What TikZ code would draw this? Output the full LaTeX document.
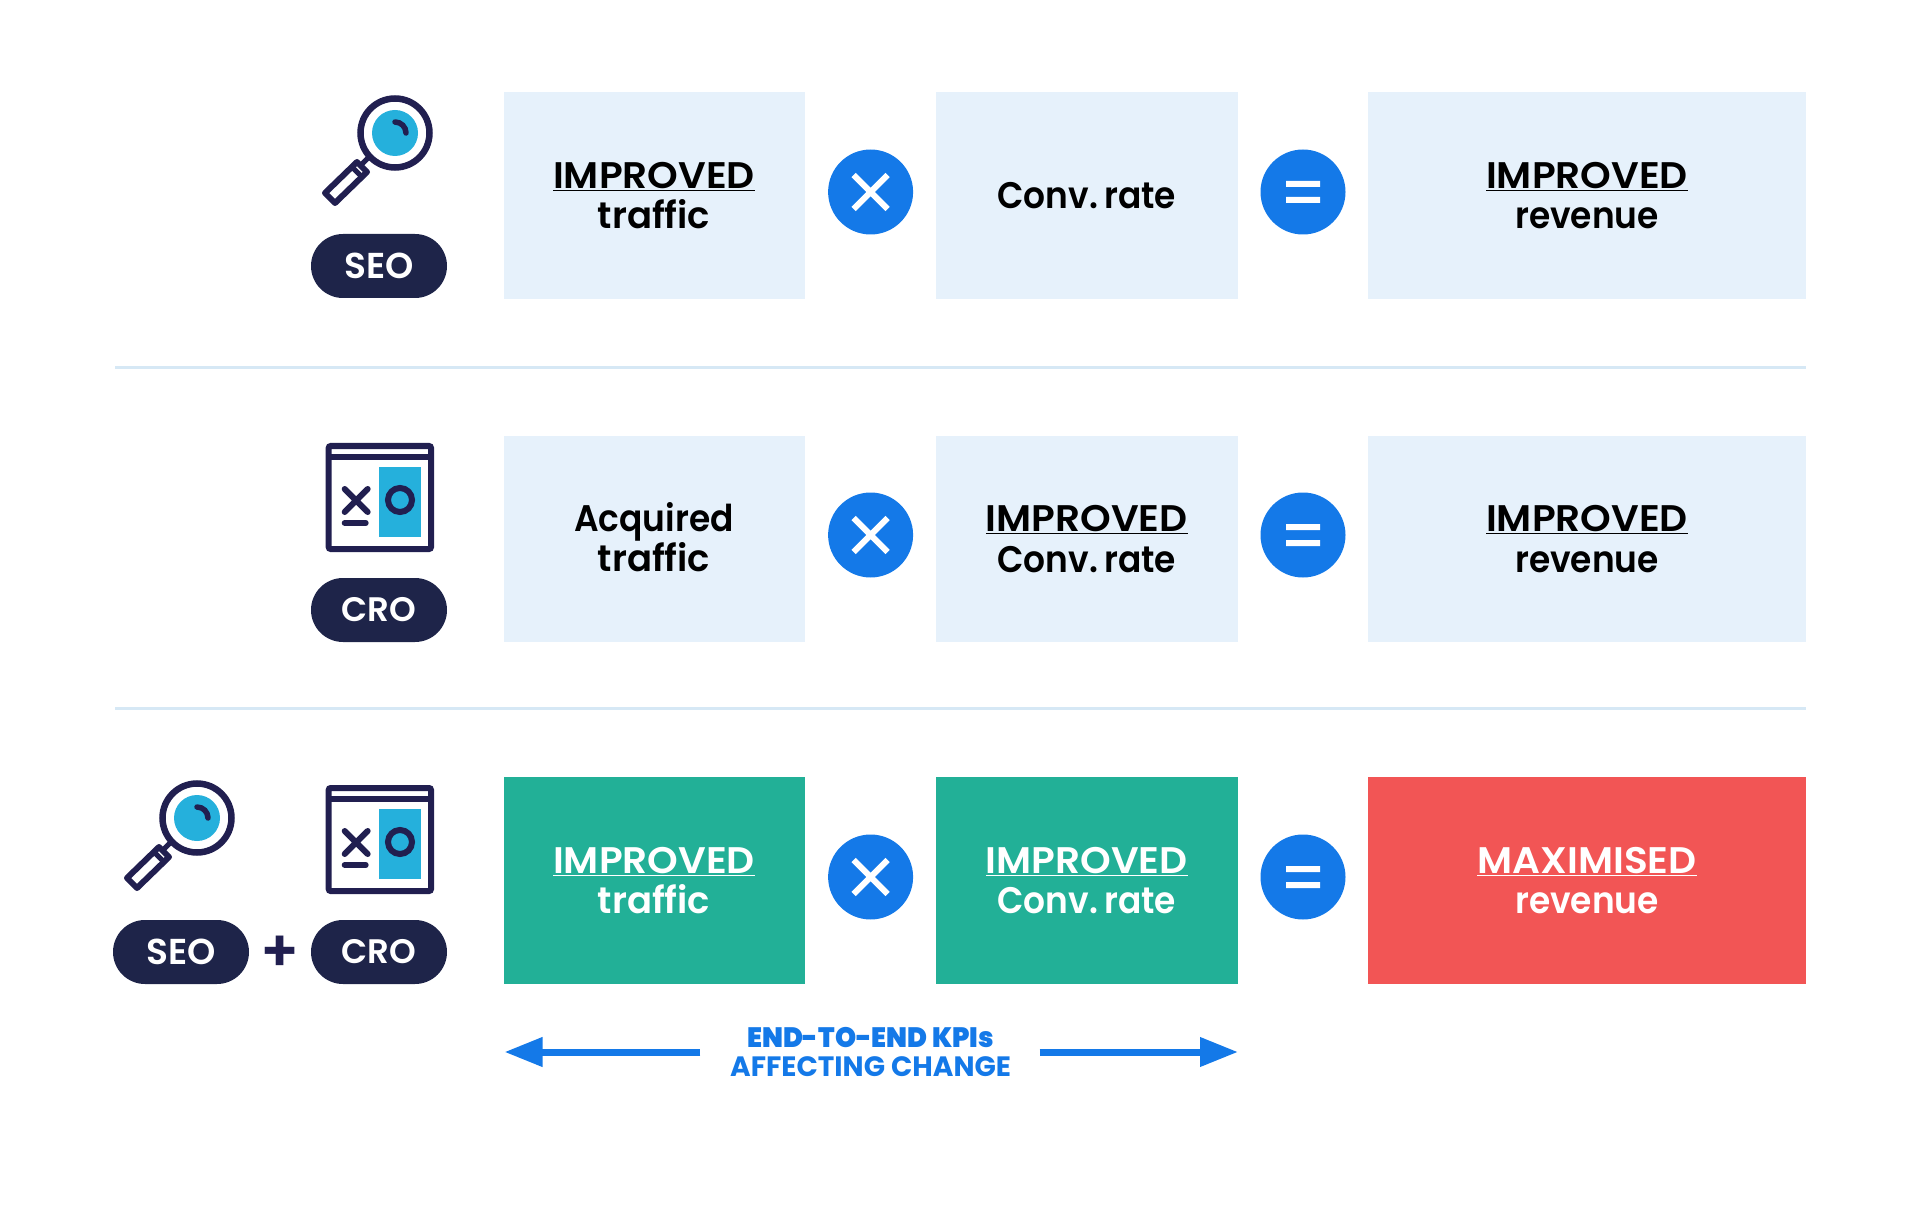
\documentclass[tikz,border=0pt]{standalone}
\usepackage{fontspec}
\setmainfont{Poppins}[BoldFont=Poppins Bold]
\newfontfamily\lowface{Poppins SemiBold}[FakeStretch=0.93,WordSpace=0.4]
\newfontfamily\wideface{Poppins SemiBold}[FakeStretch=1.0]
\newfontfamily\capface{Poppins SemiBold}[FakeStretch=1.055]
\newfontfamily\pillface{Poppins SemiBold}
\newfontfamily\kpiface{Poppins Bold}[FakeStretch=0.96]
\usetikzlibrary{arrows.meta}
\definecolor{navy}{HTML}{1E2449}
\definecolor{iconink}{HTML}{211F50}
\definecolor{cyanfill}{HTML}{25B0DC}
\definecolor{paleblue}{HTML}{E6F1FB}
\definecolor{rulecol}{HTML}{D6E8F5}
\definecolor{teal}{HTML}{22B097}
\definecolor{coral}{HTML}{F25555}
\definecolor{azure}{HTML}{1479E8}
\newcommand{\ul}[1]{\underline{{\capface #1}}}
\tikzset{
  kpibox/.style={rectangle,inner sep=0pt,minimum height=206.5pt,align=center,font=\fontsize{37}{40.6}\selectfont\lowface},
  palebox/.style={kpibox,fill=paleblue,text=black},
  teabox/.style={kpibox,fill=teal,text=white},
  redbox/.style={kpibox,fill=coral,text=white},
  opdisc/.style={circle,fill=azure,minimum size=85pt,inner sep=0pt},
  tagpill/.style={rectangle,rounded corners=32pt,fill=navy,text=white,minimum width=136pt,minimum height=64pt,inner sep=0pt,font=\fontsize{34}{36}\selectfont\pillface},
  seopill/.style={tagpill,font=\fontsize{36}{36}\selectfont\pillface},
  divider/.style={draw=rulecol,line width=3pt},
  iconline/.style={draw=iconink,line width=6pt},
  bluearrow/.style={draw=azure,line width=7pt,-{Triangle[length=38pt,width=28pt]}},
  timessign/.pic={\draw[white,line width=6pt] (-17,-17) -- (17,17) (-17,17) -- (17,-17);},
  equalsign/.pic={\fill[white] (-17,-11) rectangle (17,-5) (-17,5) rectangle (17,11);},
  lens/.pic={
    \fill[cyanfill] (0,0) circle (23);
    \draw[iconink,line width=6.5pt] (0,0) circle (34.5);
    \draw[iconink,line width=5.5pt,line cap=round] (0,-11) arc (-90:0:11);
    \draw[iconink,line width=5pt] (-27,25) -- (-37,35);
    \draw[iconink,line width=6pt,fill=white,line join=round] (-38,29) -- (-28,39) -- (-60,70) -- (-70,60) -- cycle;
    \draw[iconink,line width=5pt] (-42,35) -- (-33,44);
  },
  abtest/.pic={
    \fill[cyanfill] (53.3,24) rectangle (95.3,94);
    \draw[iconline,rounded corners=2pt] (3,3) rectangle (105.3,106);
    \draw[iconline] (3,14) -- (105.3,14);
    \draw[iconink,line width=6pt,line cap=round] (19,46) -- (42,69) (19,69) -- (42,46);
    \draw[iconink,line width=6pt,line cap=round] (19,80) -- (40,80);
    \draw[iconink,line width=6pt] (74.3,57) circle (12);
  }
}
\begin{document}
\begin{tikzpicture}[x=1pt,y=-1pt]
\useasboundingbox (0,0) rectangle (1920,1222);
% row 1
\pic at (395,133) {lens};
\node[seopill] (seoA) at (379,266) {SEO};
\node[palebox,minimum width=301pt] (a1) at (654,195.5) {\ul{IMPROVED}\\{\wideface traffic}};
\node[opdisc] (a2) at (870.6,192) {};
\pic at (a2) {timessign};
\node[palebox,minimum width=302.5pt] (a3) at (1086.8,195.5) {Conv. rate};
\node[opdisc] (a4) at (1303,192) {};
\pic at (a4) {equalsign};
\node[palebox,minimum width=438pt] (a5) at (1587,195.5) {\ul{IMPROVED}\\revenue};
% divider 1
\coordinate (d1l) at (115,368);
\coordinate (d1r) at (1806,368);
\draw[divider] (d1l) -- (d1r);
% row 2
\pic at (325.7,443) {abtest};
\node[tagpill] (croB) at (379,610) {CRO};
\node[palebox,minimum width=301pt] (b1) at (654,539) {Acquired\\{\wideface traffic}\rule[-4pt]{0pt}{1pt}};
\node[opdisc] (b2) at (870.6,535) {};
\pic at (b2) {timessign};
\node[palebox,minimum width=302.5pt] (b3) at (1086.8,539) {\ul{IMPROVED}\\Conv. rate};
\node[opdisc] (b4) at (1303,535) {};
\pic at (b4) {equalsign};
\node[palebox,minimum width=438pt] (b5) at (1587,539) {\ul{IMPROVED}\\revenue};
% divider 2
\coordinate (d2l) at (115,708);
\coordinate (d2r) at (1806,708);
\draw[divider] (d2l) -- (d2r);
% row 3
\pic at (197,818) {lens};
\pic at (325.7,785) {abtest};
\node[seopill] (seoC) at (181,952) {SEO};
\node[text=iconink,font=\fontsize{58}{58}\selectfont\pillface,inner sep=0pt] (plus) at (280,954) {+};
\node[tagpill] (croC) at (379,952) {CRO};
\node[teabox,minimum width=301pt] (c1) at (654,880.5) {\ul{IMPROVED}\\{\wideface traffic}};
\node[opdisc] (c2) at (870.6,877) {};
\pic at (c2) {timessign};
\node[teabox,minimum width=302.5pt] (c3) at (1086.8,880.5) {\ul{IMPROVED}\\Conv. rate};
\node[opdisc] (c4) at (1303,877) {};
\pic at (c4) {equalsign};
\node[redbox,minimum width=438pt] (c5) at (1587,880.5) {\ul{MAXIMISED}\\revenue};
% KPI caption
\node[text=azure,align=center,inner sep=0pt,font=\fontsize{28}{29.5}\selectfont\bfseries] (kpi) at (870.6,1052) {{\kpiface END-TO-END KPIs}\\AFFECTING CHANGE};
\coordinate (tipL) at (504.5,1052);
\coordinate (tailL) at (700.4,1052);
\coordinate (tailR) at (1039.6,1052);
\coordinate (tipR) at (1238,1052);
\draw[bluearrow] (tailL) -- (tipL);
\draw[bluearrow] (tailR) -- (tipR);
\end{tikzpicture}
\end{document}
